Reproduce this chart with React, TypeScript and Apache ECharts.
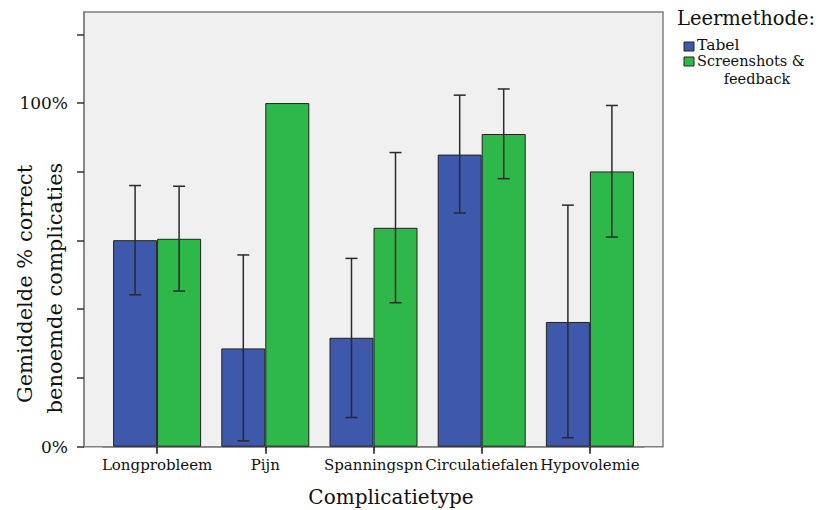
import React, { useEffect, useRef } from 'react';
import * as echarts from 'echarts';

const categories = ['Longprobleem', 'Pijn', 'Spanningspn', 'Circulatiefalen', 'Hypovolemie'];
const tabelMeans = [60.1, 28.6, 31.7, 85.0, 36.3];
const tabelLow = [44.2, 1.7, 8.5, 68.0, 2.6];
const tabelHigh = [76.0, 55.8, 54.8, 102.3, 70.3];
const screenMeans = [60.5, 100, 63.7, 91.0, 80.1];
const screenLow: (number | null)[] = [45.3, null, 41.9, 78.0, 61.0];
const screenHigh: (number | null)[] = [75.8, null, 85.6, 104.1, 99.3];
const yTickLabels: Record<number, string> = { 0: '0%', 100: '100%' };
const seriesNames = ['Tabel', 'Screenshots &', 'feedback'];

const FONT = 'DejaVu Serif';
const BLUE = '#3e58ab';
const GREEN = '#2fb84a';

function errData(lo: (number | null)[], hi: (number | null)[]) {
  const out: number[][] = [];
  lo.forEach((v, i) => {
    if (v != null && hi[i] != null) out.push([i, v as number, hi[i] as number]);
  });
  return out;
}

function errRender(offset: number) {
  return (params: any, api: any) => {
    const i = api.value(0);
    const pLo = api.coord([i, api.value(1)]);
    const pHi = api.coord([i, api.value(2)]);
    const x = pLo[0] + offset;
    const style = { stroke: '#2a2a2a', lineWidth: 1.5 };
    return {
      type: 'group',
      children: [
        { type: 'line', shape: { x1: x, y1: pHi[1], x2: x, y2: pLo[1] }, style },
        { type: 'line', shape: { x1: x - 6, y1: pHi[1], x2: x + 6, y2: pHi[1] }, style },
        { type: 'line', shape: { x1: x - 6, y1: pLo[1], x2: x + 6, y2: pLo[1] }, style },
      ],
    };
  };
}

export default function App() {
  const ref = useRef<HTMLDivElement>(null);
  useEffect(() => {
    const chart = echarts.init(ref.current!, null, { renderer: 'svg' });
    chart.setOption({
      animation: false,
      backgroundColor: '#ffffff',
      grid: { left: 103, right: 180, top: 12, bottom: 63.3, containLabel: false },
      xAxis: {
        type: 'category',
        data: categories,
        axisLine: { show: true, lineStyle: { color: '#808080', width: 1.5 } },
        axisTick: { show: true, alignWithLabel: true, length: 7, lineStyle: { color: '#111', width: 1.5 } },
        axisLabel: { fontFamily: FONT, fontSize: 15, color: '#111', margin: 11, interval: 0 },
      },
      yAxis: {
        type: 'value',
        min: 0,
        max: 126.5,
        interval: 20,
        offset: 19,
        splitLine: { show: false },
        axisLine: { show: true, lineStyle: { color: '#808080', width: 1.5 } },
        axisTick: { show: true, length: 7, lineStyle: { color: '#333', width: 1.5 } },
        axisLabel: {
          fontFamily: FONT,
          fontSize: 17,
          color: '#111',
          margin: 16,
          showMaxLabel: false,
          formatter: (v: number) => yTickLabels[v] ?? '',
        },
      },
      graphic: [
        {
          type: 'rect',
          z: -10,
          shape: { x: 84, y: 12, width: 579, height: 434.7 },
          style: { fill: '#f0f0f0', stroke: '#808080', lineWidth: 1.5 },
        },
        {
          type: 'text',
          x: 25,
          y: 284,
          rotation: Math.PI / 2,
          style: {
            text: 'Gemiddelde % correct',
            font: `21px "${FONT}"`,
            fill: '#111',
            align: 'center',
            verticalAlign: 'middle',
          },
        },
        {
          type: 'text',
          x: 55,
          y: 288,
          rotation: Math.PI / 2,
          style: {
            text: 'benoemde complicaties',
            font: `21px "${FONT}"`,
            fill: '#111',
            align: 'center',
            verticalAlign: 'middle',
          },
        },
        {
          type: 'text',
          x: 391,
          y: 497,
          style: {
            text: 'Complicatietype',
            font: `20px "${FONT}"`,
            fill: '#111',
            align: 'center',
            verticalAlign: 'middle',
          },
        },
        {
          type: 'text',
          x: 677,
          y: 18,
          style: { text: 'Leermethode:', font: `19.5px "${FONT}"`, fill: '#111', align: 'left', verticalAlign: 'middle' },
        },
        {
          type: 'rect',
          shape: { x: 684, y: 42, width: 10, height: 9 },
          style: { fill: BLUE, stroke: '#222', lineWidth: 1 },
        },
        {
          type: 'rect',
          shape: { x: 684, y: 57, width: 10, height: 9 },
          style: { fill: GREEN, stroke: '#222', lineWidth: 1 },
        },
        {
          type: 'text',
          x: 697,
          y: 45,
          style: { text: seriesNames[0], font: `15.5px "${FONT}"`, fill: '#111', align: 'left', verticalAlign: 'middle' },
        },
        {
          type: 'text',
          x: 697,
          y: 61,
          style: { text: seriesNames[1], font: `14.5px "${FONT}"`, fill: '#111', align: 'left', verticalAlign: 'middle' },
        },
        {
          type: 'text',
          x: 757,
          y: 79,
          style: { text: seriesNames[2], font: `14.5px "${FONT}"`, fill: '#111', align: 'center', verticalAlign: 'middle' },
        },
      ],
      series: [
        {
          name: 'Tabel',
          type: 'bar',
          data: tabelMeans,
          barWidth: 44,
          barGap: '0%',
          itemStyle: { color: BLUE, borderColor: '#222', borderWidth: 1 },
        },
        {
          name: 'Screenshots & feedback',
          type: 'bar',
          data: screenMeans,
          barWidth: 44,
          barGap: '0%',
          itemStyle: { color: GREEN, borderColor: '#222', borderWidth: 1 },
        },
        {
          type: 'custom',
          z: 5,
          data: errData(tabelLow, tabelHigh),
          renderItem: errRender(-22),
        },
        {
          type: 'custom',
          z: 5,
          data: errData(screenLow, screenHigh),
          renderItem: errRender(22),
        },
      ],
    });
    return () => chart.dispose();
  }, []);
  return <div ref={ref} style={{ width: 824, height: 510, position: 'absolute', left: 0, top: 0 }} />;
}
